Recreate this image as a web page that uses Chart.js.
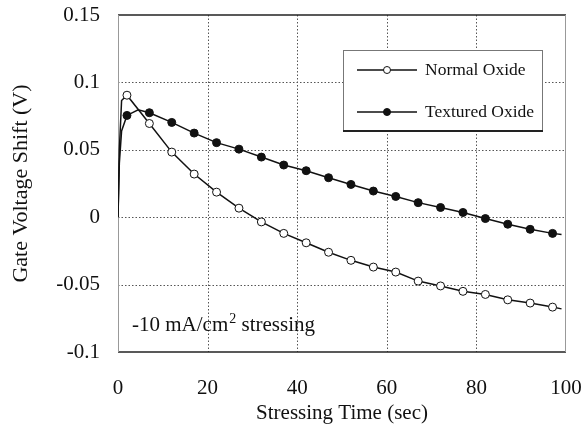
<!DOCTYPE html>
<html>
<head>
<meta charset="utf-8">
<script src="https://cdn.jsdelivr.net/npm/chart.js@4"></script>
<style>
  html, body { margin: 0; padding: 0; background: #fff; }
  #wrap { width: 584px; height: 430px; }
</style>
</head>
<body>
<div id="wrap"><canvas id="c" width="584" height="430"></canvas></div>
<script>
// ---- data ----
const markerTimes = [2, 7, 12, 17, 22, 27, 32, 37, 42, 47, 52, 57, 62, 67, 72, 77, 82, 87, 92, 97];
const normalOxide = [0.0905, 0.0695, 0.0483, 0.032, 0.0186, 0.0067, -0.0035, -0.012, -0.019, -0.026,
                     -0.032, -0.037, -0.0407, -0.0474, -0.051, -0.055, -0.0573, -0.0613, -0.0637, -0.0667];
const texturedOxide = [0.0755, 0.0775, 0.0703, 0.0624, 0.0553, 0.0505, 0.0446, 0.0387, 0.0345, 0.0293,
                       0.0243, 0.0194, 0.0154, 0.0108, 0.0072, 0.0035, -0.001, -0.0052, -0.009, -0.012];
// unmarked curve points (initial rise, peak, end of trace)
const normalExtraX = [0, 0.3, 0.8, 99];
const normalExtraY = [0, 0.05, 0.0866, -0.068];
const texturedExtraX = [0, 0.3, 0.8, 4.5, 99];
const texturedExtraY = [0, 0.04, 0.064, 0.0797, -0.0128];

const xTicks = [0, 20, 40, 60, 80, 100];
const xTickLabels = ['0', '20', '40', '60', '80', '100'];
const yTicks = [-0.1, -0.05, 0, 0.05, 0.1, 0.15];
const yTickLabels = ['-0.1', '-0.05', '0', '0.05', '0.1', '0.15'];

const seriesNames = ['Normal Oxide', 'Textured Oxide'];
const xTitle = 'Stressing Time (sec)';
const yTitle = 'Gate Voltage Shift (V)';
const noteMain = '-10 mA/cm';
const noteSup = '2';
const noteTail = ' stressing';

// ---- build point lists ----
function buildSeries(mx, my, ex, ey) {
  const pts = [];
  mx.forEach((x, i) => pts.push({ x: x, y: my[i], m: true }));
  ex.forEach((x, i) => pts.push({ x: x, y: ey[i], m: false }));
  pts.sort((a, b) => a.x - b.x);
  return pts;
}
const normalPts = buildSeries(markerTimes, normalOxide, normalExtraX, normalExtraY);
const texturedPts = buildSeries(markerTimes, texturedOxide, texturedExtraX, texturedExtraY);

const SERIF = '"Liberation Serif", "DejaVu Serif", serif';
const INK = '#111';

const framePlugin = {
  id: 'frame',
  beforeDatasetsDraw(chart) {
    const { ctx, chartArea: a, scales } = chart;
    ctx.save();
    ctx.strokeStyle = '#555';
    ctx.lineWidth = 1;
    ctx.setLineDash([1.5, 2]);
    xTicks.forEach(v => {
      if (v === xTicks[0] || v === xTicks[xTicks.length - 1]) return;
      const px = Math.round(scales.x.getPixelForValue(v)) + 0.5;
      ctx.beginPath(); ctx.moveTo(px, a.top); ctx.lineTo(px, a.bottom); ctx.stroke();
    });
    yTicks.forEach(v => {
      if (v === yTicks[0] || v === yTicks[yTicks.length - 1]) return;
      const py = Math.round(scales.y.getPixelForValue(v)) + 0.5;
      ctx.beginPath(); ctx.moveTo(a.left, py); ctx.lineTo(a.right, py); ctx.stroke();
    });
    ctx.setLineDash([]);
    // top & bottom solid
    ctx.strokeStyle = '#222';
    ctx.lineWidth = 1.5;
    ctx.beginPath(); ctx.moveTo(a.left, a.top); ctx.lineTo(a.right, a.top); ctx.stroke();
    ctx.beginPath(); ctx.moveTo(a.left, a.bottom); ctx.lineTo(a.right, a.bottom); ctx.stroke();
    // left & right lighter
    ctx.strokeStyle = '#999';
    ctx.lineWidth = 1;
    ctx.beginPath(); ctx.moveTo(a.left + 0.5, a.top); ctx.lineTo(a.left + 0.5, a.bottom); ctx.stroke();
    ctx.beginPath(); ctx.moveTo(a.right - 0.5, a.top); ctx.lineTo(a.right - 0.5, a.bottom); ctx.stroke();
    ctx.restore();
  },
  afterDraw(chart) {
    const { ctx, chartArea: a } = chart;
    ctx.save();
    // legend box
    const bx = a.left + 225, by = a.top + 35, bw = 199, bh = 81;
    ctx.fillStyle = '#fff';
    ctx.fillRect(bx, by, bw, bh);
    ctx.strokeStyle = '#777';
    ctx.lineWidth = 1;
    ctx.strokeRect(bx + 0.5, by + 0.5, bw, bh);
    ctx.strokeStyle = '#222';
    ctx.lineWidth = 2;
    ctx.beginPath(); ctx.moveTo(bx, by + bh); ctx.lineTo(bx + bw + 1, by + bh); ctx.stroke();
    chart.data.datasets.forEach((ds, i) => {
      const yy = by + 20 + i * 42;
      const x0 = bx + 14, x1 = bx + 74;
      ctx.strokeStyle = ds.borderColor;
      ctx.lineWidth = 1.3;
      ctx.beginPath(); ctx.moveTo(x0, yy); ctx.lineTo(x1, yy); ctx.stroke();
      ctx.beginPath();
      ctx.arc((x0 + x1) / 2, yy, 3.5, 0, Math.PI * 2);
      ctx.fillStyle = ds.pointBackgroundColor;
      ctx.fill();
      ctx.lineWidth = 1;
      ctx.strokeStyle = ds.pointBorderColor;
      ctx.stroke();
      ctx.fillStyle = INK;
      ctx.font = '17.5px ' + SERIF;
      ctx.textAlign = 'left';
      ctx.textBaseline = 'middle';
      ctx.fillText(ds.label, bx + 82, yy);
    });
    // annotation
    ctx.fillStyle = INK;
    ctx.textBaseline = 'alphabetic';
    ctx.textAlign = 'left';
    ctx.font = '21px ' + SERIF;
    let tx = a.left + 14;
    const ty = a.bottom - 21;
    ctx.fillText(noteMain, tx, ty);
    tx += ctx.measureText(noteMain).width;
    ctx.font = '14px ' + SERIF;
    ctx.fillText(noteSup, tx + 1, ty - 8);
    tx += ctx.measureText(noteSup).width + 1;
    ctx.font = '21px ' + SERIF;
    ctx.fillText(noteTail, tx, ty);
    ctx.restore();
  }
};

new Chart(document.getElementById('c'), {
  type: 'line',
  data: {
    datasets: [
      {
        label: seriesNames[0],
        data: normalPts,
        borderColor: '#111',
        borderWidth: 1.5,
        pointBackgroundColor: '#fff',
        pointBorderColor: '#111',
        pointBorderWidth: 1,
        pointRadius: ctx => (ctx.raw && ctx.raw.m ? 4 : 0),
        tension: 0
      },
      {
        label: seriesNames[1],
        data: texturedPts,
        borderColor: '#111',
        borderWidth: 1.5,
        pointBackgroundColor: '#111',
        pointBorderColor: '#111',
        pointBorderWidth: 1,
        pointRadius: ctx => (ctx.raw && ctx.raw.m ? 4 : 0),
        tension: 0
      }
    ]
  },
  options: {
    responsive: false,
    animation: false,
    devicePixelRatio: 1,
    layout: { padding: { top: 15, right: 18, left: 0, bottom: 0 } },
    plugins: { legend: { display: false }, tooltip: { enabled: false } },
    scales: {
      x: {
        type: 'linear',
        min: 0, max: 100,
        afterBuildTicks: s => { s.ticks = xTicks.map(v => ({ value: v })); },
        afterFit: s => { s.height = 78; s.paddingLeft = 0; s.paddingRight = 0; },
        ticks: {
          callback: (v, i) => xTickLabels[i],
          font: { family: SERIF, size: 21 },
          color: INK,
          padding: 24,
          maxRotation: 0
        },
        grid: { display: false, drawTicks: false },
        border: { display: false },
        title: {
          display: true, text: xTitle, color: INK,
          font: { family: SERIF, size: 21 },
          padding: { top: 0, bottom: 4 }
        }
      },
      y: {
        type: 'linear',
        min: -0.1, max: 0.15,
        afterBuildTicks: s => { s.ticks = yTicks.map(v => ({ value: v })); },
        afterFit: s => { s.width = 118; s.paddingTop = 0; s.paddingBottom = 0; },
        ticks: {
          callback: (v, i) => yTickLabels[i],
          font: { family: SERIF, size: 21 },
          color: INK,
          padding: 18
        },
        grid: { display: false, drawTicks: false },
        border: { display: false },
        title: {
          display: true, text: yTitle, color: INK,
          font: { family: SERIF, size: 22 },
          padding: { top: 8, bottom: 0 }
        }
      }
    }
  },
  plugins: [framePlugin]
});
</script>
</body>
</html>
